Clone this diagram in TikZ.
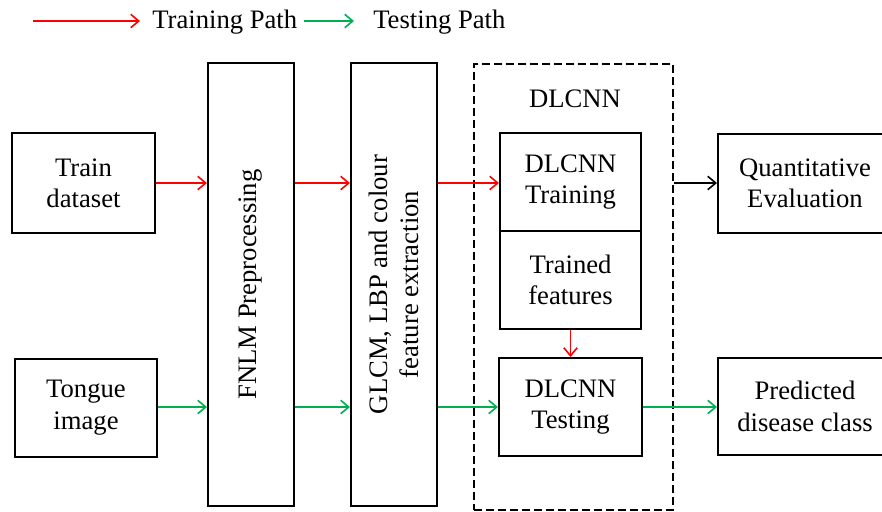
\documentclass[tikz,border=0pt]{standalone}
\usepackage{fontspec}
\setmainfont{Liberation Serif}
\newfontfamily\labelfont{Liberation Serif}
\usetikzlibrary{arrows.meta}
\definecolor{trainred}{RGB}{255,0,0}
\definecolor{testgreen}{RGB}{0,176,80}
\begin{document}
\begin{tikzpicture}[x=0.75pt,y=-0.75pt,
  every node/.style={font=\labelfont\fontsize{20}{23.5}\selectfont},
  box/.style={draw, line width=1.5pt, align=center, inner sep=0pt},
  conn/.style={line width=1.2pt, -{Straight Barb[length=6pt,width=10pt,line width=1.2pt]}},
  trainpath/.style={conn, trainred},
  testpath/.style={conn, testgreen},
  evalpath/.style={conn, black}]
\useasboundingbox (0,0) rectangle (882,511);

% legend
\coordinate (lr1) at (33,21);
\coordinate (lr2) at (140,21);
\coordinate (lg1) at (304,21);
\coordinate (lg2) at (354,21);
\draw[trainpath] (lr1) -- (lr2);
\node[anchor=base west, inner sep=0pt] (ltrain) at (152,28) {Training Path};
\draw[testpath] (lg1) -- (lg2);
\node[anchor=base west, inner sep=0pt] (ltest) at (373,28) {Testing Path};

% inputs
\node[box, minimum width=107.25pt, minimum height=75pt] (train) at (83.5,183) {Train\\dataset};
\node[box, minimum width=106.5pt, minimum height=73.5pt] (tongue) at (86,407.5) {Tongue\\image};

% tall processing stages
\node[box, minimum width=64.5pt, minimum height=332.25pt] (fnlm) at (251,284.5) {};
\node[rotate=90] at (fnlm.center) {FNLM Preprocessing};
\node[box, minimum width=64.5pt, minimum height=332.25pt] (glcm) at (394,284.5) {};
\node[rotate=90, align=center] at (glcm.center) {GLCM, LBP and colour\\feature extraction};

% DLCNN group
\node[draw, dash pattern=on 6pt off 3pt, line width=1.4pt, minimum width=149.25pt, minimum height=334.5pt, inner sep=0pt] (dlcnn) at (573.5,287) {};
\node (dlcnnlabel) at (575,99) {DLCNN};
\node[box, minimum width=105.75pt, minimum height=73.5pt] (dtrain) at (570.5,182) {DLCNN\\Training};
\node[box, minimum width=105.75pt, minimum height=73.5pt] (feat) at (570.5,280) {Trained\\features};
\node[box, minimum width=107.25pt, minimum height=73.5pt] (dtest) at (570.5,407) {DLCNN\\Testing};

% outputs
\node[box, minimum width=130.5pt, minimum height=74.25pt] (quant) at (805,183.5) {Quantitative\\Evaluation};
\node[box, minimum width=130.5pt, minimum height=72.75pt] (pred) at (805,406.5) {Predicted\\disease class};

% training path
\draw[trainpath] (train.east |- 0,183) -- (fnlm.west |- 0,183);
\draw[trainpath] (fnlm.east |- 0,183) -- (glcm.west |- 0,183);
\draw[trainpath] (glcm.east |- 0,183) -- (dtrain.west |- 0,183);
\draw[trainpath] (feat.south) -- (dtest.north);
\draw[evalpath] (dlcnn.east |- 0,183) -- (quant.west |- 0,183);

% testing path
\draw[testpath] (tongue.east |- 0,407) -- (fnlm.west |- 0,407);
\draw[testpath] (fnlm.east |- 0,407) -- (glcm.west |- 0,407);
\draw[testpath] (glcm.east |- 0,407) -- (dtest.west |- 0,407);
\draw[testpath] (dtest.east |- 0,407) -- (pred.west |- 0,407);
\end{tikzpicture}
\end{document}
